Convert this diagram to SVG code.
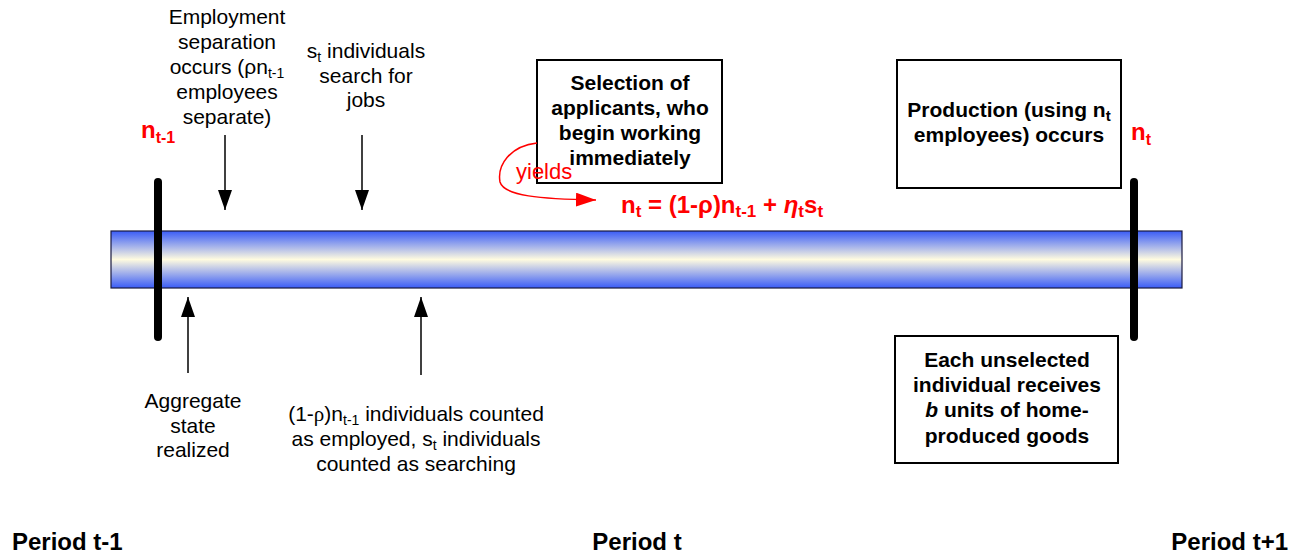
<svg xmlns="http://www.w3.org/2000/svg" width="1295" height="557" viewBox="0 0 1295 557">
<defs>
<linearGradient id="barGrad" x1="0" y1="0" x2="0" y2="1">
<stop offset="0" stop-color="#3a5cf7"/>
<stop offset="0.5" stop-color="#fffbe0"/>
<stop offset="1" stop-color="#3a5cf7"/>
</linearGradient>
<marker id="ah" viewBox="0 0 20 14" refX="20" refY="7" markerWidth="20" markerHeight="14" markerUnits="userSpaceOnUse" orient="auto">
<path d="M0,0 L20,7 L0,14 Z" fill="#000"/>
</marker>
<marker id="ahr" viewBox="0 0 20 14" refX="20" refY="7" markerWidth="20" markerHeight="14" markerUnits="userSpaceOnUse" orient="auto">
<path d="M0,0 L20,7 L0,14 Z" fill="#ff0000"/>
</marker>
</defs>
<style>
text{font-family:"Liberation Sans",Arial,sans-serif;fill:#000}
.lbl{font-size:21px;text-anchor:middle}
.bold{font-size:21px;font-weight:bold;text-anchor:middle}
.red{fill:#ff0000;font-weight:bold;font-size:24px}
.per{font-size:24px;font-weight:bold}
.box{fill:#fff;stroke:#000;stroke-width:2}
.tick{stroke:#000;stroke-width:8;stroke-linecap:round}
.arr{stroke:#000;stroke-width:1.5;fill:none;marker-end:url(#ah)}
</style>
<rect width="1295" height="557" fill="#fff"/>

<g id="timeline">
<rect x="111" y="231" width="1071" height="57" fill="url(#barGrad)" stroke="#1a1a40" stroke-width="1.2"/>
<line class="tick" x1="158" y1="182" x2="158" y2="337"/>
<line class="tick" x1="1134" y1="182" x2="1134" y2="337"/>
</g>

<g id="connectors">
<line class="arr" x1="225" y1="135" x2="225" y2="210"/>
<line class="arr" x1="362" y1="135" x2="362" y2="210"/>
<line class="arr" x1="188" y1="373" x2="188" y2="297"/>
<line class="arr" x1="421" y1="375" x2="421" y2="297"/>
</g>

<g id="n-prev">
<text class="red" x="141" y="138">n<tspan font-size="16" dy="5">t-1</tspan></text>
</g>

<g id="separation">
<text class="lbl" x="227" y="24">Employment</text>
<text class="lbl" x="227" y="49">separation</text>
<text class="lbl" x="227" y="74">occurs (ρn<tspan font-size="14" dy="4">t-1</tspan></text>
<text class="lbl" x="227" y="99">employees</text>
<text class="lbl" x="227" y="124">separate)</text>
</g>

<g id="search">
<text class="lbl" x="366" y="58">s<tspan font-size="14" dy="4">t</tspan><tspan dy="-4"> individuals</tspan></text>
<text class="lbl" x="366" y="83">search for</text>
<text class="lbl" x="366" y="107">jobs</text>
</g>

<g id="selection">
<rect class="box" x="537" y="60" width="185" height="123"/>
<text class="bold" x="630" y="90">Selection of</text>
<text class="bold" x="630" y="115">applicants, who</text>
<text class="bold" x="630" y="140">begin working</text>
<text class="bold" x="630" y="165">immediately</text>
</g>

<g id="yields">
<path d="M537,143 C510,146 497,165 500,182 C504,196 540,199 596,200" fill="none" stroke="#ff0000" stroke-width="1.5" marker-end="url(#ahr)"/>
<text x="516" y="179" font-size="22" style="fill:#ff0000">yields</text>
</g>

<g id="equation">
<text class="red" x="621" y="213">n<tspan font-size="17" dy="4">t</tspan><tspan dy="-4"> = (1-ρ)n</tspan><tspan font-size="17" dy="4">t-1</tspan><tspan dy="-4"> + </tspan><tspan font-style="italic">η</tspan><tspan font-size="17" dy="4">t</tspan><tspan dy="-4">s</tspan><tspan font-size="17" dy="4">t</tspan></text>
</g>

<g id="production">
<rect class="box" x="897" y="60" width="224" height="128"/>
<text class="bold" x="1009" y="117">Production (using n<tspan font-size="15" dy="4">t</tspan></text>
<text class="bold" x="1009" y="142">employees) occurs</text>
</g>

<g id="n-now">
<text class="red" x="1131" y="140">n<tspan font-size="16" dy="5">t</tspan></text>
</g>

<g id="home">
<rect class="box" x="895" y="336" width="223" height="127"/>
<text class="bold" x="1007" y="367">Each unselected</text>
<text class="bold" x="1007" y="392">individual receives</text>
<text class="bold" x="1007" y="417"><tspan font-style="italic">b</tspan> units of home-</text>
<text class="bold" x="1007" y="443">produced goods</text>
</g>

<g id="aggregate">
<text class="lbl" x="193" y="408">Aggregate</text>
<text class="lbl" x="193" y="433">state</text>
<text class="lbl" x="193" y="457">realized</text>
</g>

<g id="counted">
<text class="lbl" x="416" y="421">(1-<tspan font-family="Liberation Serif">ρ</tspan>)n<tspan font-size="14" dy="4">t-1</tspan><tspan dy="-4"> individuals counted</tspan></text>
<text class="lbl" x="416" y="446">as employed, s<tspan font-size="14" dy="4">t</tspan><tspan dy="-4"> individuals</tspan></text>
<text class="lbl" x="416" y="471">counted as searching</text>
</g>

<g id="periods">
<text class="per" x="12" y="550">Period t-1</text>
<text class="per" x="637" y="550" text-anchor="middle">Period t</text>
<text class="per" x="1288" y="550" text-anchor="end">Period t+1</text>
</g>
</svg>
